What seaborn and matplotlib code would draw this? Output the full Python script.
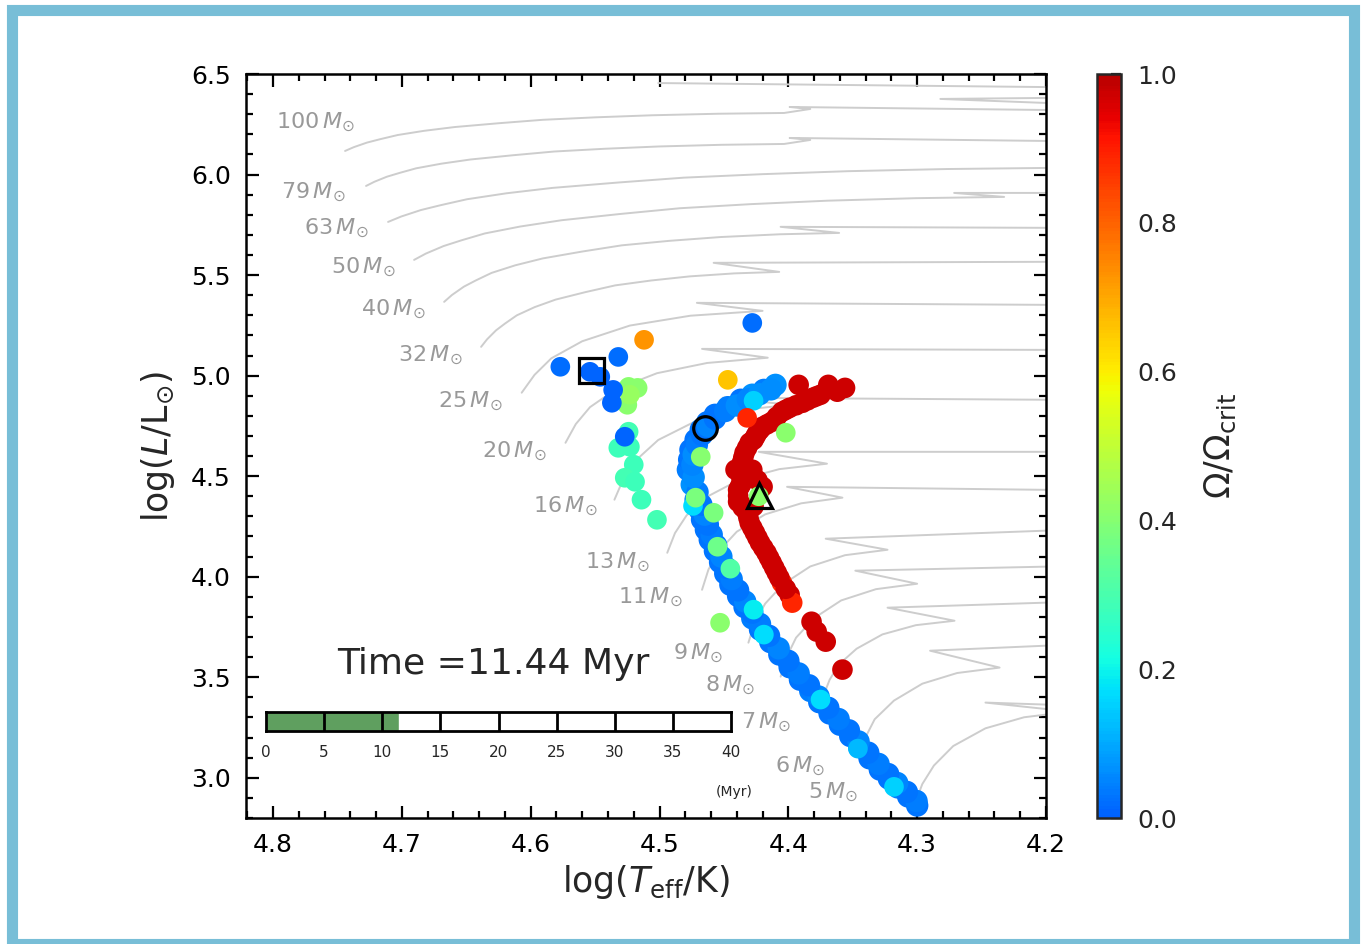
import numpy as np
import pandas as pd
import matplotlib
matplotlib.use("Agg")
import matplotlib.pyplot as plt
import seaborn as sns
from matplotlib.colors import ListedColormap, Normalize
from matplotlib.patches import Rectangle
from matplotlib.ticker import MultipleLocator
import matplotlib.cm as cm

# ---------------- data ----------------
# evolutionary tracks (logTeff, logL)
trk5_T = [4.302, 4.296, 4.287, 4.272, 4.247, 4.217, 4.181, 4.247, 4.200]
trk5_L = [2.867, 2.969, 3.061, 3.158, 3.246, 3.301, 3.329, 3.374, 3.364]
trk6_T = [4.346, 4.340, 4.333, 4.318, 4.296, 4.269, 4.236, 4.290, 4.200]
trk6_L = [3.105, 3.203, 3.291, 3.384, 3.468, 3.521, 3.548, 3.632, 3.657]
trk7_T = [4.373, 4.368, 4.361, 4.347, 4.327, 4.301, 4.271, 4.323, 4.200]
trk7_L = [3.404, 3.487, 3.562, 3.642, 3.713, 3.759, 3.781, 3.846, 3.871]
trk8_T = [4.406, 4.401, 4.394, 4.380, 4.359, 4.332, 4.300, 4.348, 4.200]
trk8_L = [3.503, 3.605, 3.697, 3.794, 3.882, 3.938, 3.965, 4.030, 4.050]
trk9_T = [4.431, 4.426, 4.418, 4.404, 4.383, 4.356, 4.323, 4.371, 4.200]
trk9_L = [3.672, 3.774, 3.866, 3.963, 4.051, 4.107, 4.134, 4.189, 4.229]
trk11_T = [4.467, 4.462, 4.454, 4.440, 4.418, 4.390, 4.358, 4.401, 4.200]
trk11_L = [3.935, 4.036, 4.127, 4.224, 4.310, 4.365, 4.393, 4.447, 4.432]
trk13_T = [4.494, 4.488, 4.479, 4.463, 4.438, 4.407, 4.370, 4.423, 4.200]
trk13_L = [4.119, 4.217, 4.305, 4.398, 4.482, 4.535, 4.562, 4.621, 4.621]
trk16_T = [4.535, 4.528, 4.518, 4.501, 4.473, 4.439, 4.399, 4.451, 4.200]
trk16_L = [4.383, 4.487, 4.581, 4.680, 4.770, 4.827, 4.855, 4.890, 4.880]
trk20_T = [4.573, 4.565, 4.554, 4.534, 4.502, 4.463, 4.416, 4.467, 4.200]
trk20_L = [4.666, 4.759, 4.843, 4.932, 5.012, 5.063, 5.089, 5.133, 5.128]
trk25_T = [4.607, 4.597, 4.584, 4.560, 4.523, 4.476, 4.420, 4.471, 4.200]
trk25_L = [4.915, 5.004, 5.086, 5.171, 5.249, 5.298, 5.322, 5.362, 5.352]
trk32_T = [4.6385, 4.6339, 4.6269, 4.6200, 4.6108, 4.5969, 4.5807, 4.5575, 4.5344,
           4.5066, 4.4766, 4.4418, 4.4071, 4.458, 4.200]
trk32_L = [5.1431, 5.1804, 5.2252, 5.2587, 5.2997, 5.3407, 5.3780, 5.4153, 5.4488,
           5.4730, 5.4935, 5.5085, 5.5159, 5.561, 5.566]
trk40_T = [4.6672, 4.6611, 4.6519, 4.6427, 4.6304, 4.6120, 4.5906, 4.5599, 4.5292,
           4.4924, 4.4526, 4.4066, 4.3606, 4.406, 4.200]
trk40_L = [5.3668, 5.4011, 5.4423, 5.4731, 5.5108, 5.5486, 5.5829, 5.6172, 5.6480,
           5.6703, 5.6892, 5.7029, 5.7097, 5.740, 5.735]
trk50_T = [4.6905, 4.6814, 4.6676, 4.6539, 4.6356, 4.6081, 4.5760, 4.5302, 4.4844,
           4.4294, 4.3699, 4.3012, 4.2325, 4.2713, 4.200]
trk50_L = [5.5756, 5.6069, 5.6444, 5.6726, 5.7071, 5.7415, 5.7728, 5.8041, 5.8323,
           5.8527, 5.8699, 5.8824, 5.8887, 5.9086, 5.9086]
trk63_T = [4.7107, 4.7005, 4.6852, 4.6699, 4.6495, 4.6189, 4.5832, 4.5322, 4.4812,
           4.4200, 4.3537, 4.2771, 4.2006]
trk63_L = [5.7644, 5.7913, 5.8235, 5.8476, 5.8771, 5.9067, 5.9335, 5.9603, 5.9845,
           6.0019, 6.0167, 6.0274, 6.0328]
trk79_T = [4.7278, 4.7213, 4.7116, 4.7018, 4.6889, 4.6694, 4.6467, 4.6142, 4.5818,
           4.5428, 4.5006, 4.4519, 4.4033, 4.383, 4.399, 4.200]
trk79_L = [5.9433, 5.9642, 5.9893, 6.0081, 6.0310, 6.0540, 6.0749, 6.0957, 6.1145,
           6.1281, 6.1396, 6.1479, 6.1521, 6.172, 6.182, 6.167]
trk100_T = [4.7441, 4.7373, 4.7271, 4.7168, 4.7032, 4.6828, 4.6589, 4.6248, 4.5907,
            4.5498, 4.5055, 4.4544, 4.4033, 4.383, 4.399, 4.200]
trk100_L = [6.1173, 6.1362, 6.1589, 6.1759, 6.1966, 6.2174, 6.2363, 6.2552, 6.2722,
            6.2845, 6.2948, 6.3024, 6.3062, 6.326, 6.336, 6.321]
trkA_T = [4.501, 4.200]
trkA_L = [6.455, 6.435]
trkB_T = [4.200, 4.282, 4.200]
trkB_L = [6.381, 6.376, 6.356]

# track labels
label_masses = [100, 79, 63, 50, 40, 32, 25, 20, 16, 13, 11, 9, 8, 7, 6, 5]
label_T = [4.767, 4.769, 4.751, 4.730, 4.707, 4.678, 4.647, 4.613, 4.573,
           4.533, 4.507, 4.470, 4.445, 4.417, 4.391, 4.365]
label_L = [6.257, 5.909, 5.730, 5.536, 5.327, 5.103, 4.870, 4.621, 4.348,
           4.070, 3.896, 3.617, 3.458, 3.274, 3.056, 2.926]

# slowly rotating sequence (blue band)
band_T = [4.300, 4.307, 4.315, 4.322, 4.329, 4.337, 4.345, 4.352, 4.360, 4.368,
          4.376, 4.383, 4.391, 4.399, 4.407, 4.414, 4.422, 4.428, 4.434, 4.439,
          4.445, 4.449, 4.453, 4.457, 4.461, 4.464, 4.467, 4.469, 4.472, 4.475,
          4.478, 4.477, 4.476, 4.472, 4.468, 4.463, 4.457, 4.447, 4.437, 4.428,
          4.419, 4.410]
band_L = [2.862, 2.907, 2.952, 2.996, 3.041, 3.097, 3.153, 3.208, 3.264, 3.320,
          3.376, 3.432, 3.488, 3.550, 3.613, 3.675, 3.737, 3.793, 3.849, 3.904,
          3.960, 4.016, 4.072, 4.128, 4.184, 4.234, 4.284, 4.333, 4.383, 4.458,
          4.532, 4.582, 4.631, 4.681, 4.731, 4.768, 4.805, 4.843, 4.880, 4.905,
          4.929, 4.954]
band_v = [0.03, 0.03, 0.04, 0.03, 0.03, 0.03, 0.04, 0.03, 0.03, 0.03,
          0.03, 0.04, 0.03, 0.03, 0.03, 0.03, 0.03, 0.04, 0.03, 0.03,
          0.03, 0.03, 0.03, 0.03, 0.03, 0.03, 0.03, 0.03, 0.04, 0.07,
          0.04, 0.03, 0.03, 0.03, 0.03, 0.03, 0.03, 0.04, 0.03, 0.07,
          0.04, 0.07]
band2_T = [4.3005, 4.308, 4.3155, 4.3225, 4.330, 4.338, 4.3455, 4.353, 4.361, 4.369,
           4.3765, 4.384, 4.392, 4.400, 4.4075, 4.415, 4.422, 4.428, 4.4335, 4.439,
           4.444, 4.448, 4.452, 4.456, 4.4595, 4.4625, 4.465, 4.4675, 4.4705, 4.4735,
           4.4745, 4.4735, 4.471, 4.467, 4.4625, 4.457, 4.449, 4.440, 4.4315, 4.4225,
           4.4135]
band2_L = [2.8845, 2.9295, 2.974, 3.0185, 3.069, 3.125, 3.1805, 3.236, 3.292, 3.348,
           3.404, 3.460, 3.519, 3.5815, 3.644, 3.706, 3.765, 3.821, 3.8765, 3.932,
           3.988, 4.044, 4.100, 4.156, 4.209, 4.259, 4.3085, 4.358, 4.4205, 4.495,
           4.557, 4.6065, 4.656, 4.706, 4.7495, 4.7865, 4.824, 4.8515, 4.8825, 4.907,
           4.9315]
band2_v = [0.04, 0.03, 0.05, 0.03, 0.04, 0.03, 0.05, 0.03, 0.04, 0.03,
           0.05, 0.03, 0.04, 0.03, 0.05, 0.03, 0.04, 0.03, 0.05, 0.03,
           0.04, 0.03, 0.05, 0.03, 0.04, 0.03, 0.05, 0.03, 0.04, 0.06,
           0.05, 0.06, 0.04, 0.03, 0.05, 0.03, 0.04, 0.06, 0.05, 0.07,
           0.06]

# moderately rotating stars on the band edge
cyan_T = [4.427, 4.474, 4.427, 4.419, 4.375, 4.346, 4.318]
cyan_L = [4.875, 4.352, 3.836, 3.712, 3.389, 3.145, 2.955]
cyan_v = [0.15, 0.17, 0.19, 0.17, 0.17, 0.12, 0.15]

# fast rotating sequence (red)
red_T = [4.392, 4.369, 4.362, 4.356, 4.375, 4.381, 4.389, 4.399, 4.405, 4.413,
         4.420, 4.424, 4.427, 4.430, 4.434, 4.436, 4.437, 4.441, 4.436, 4.439,
         4.439, 4.420, 4.432, 4.430, 4.426, 4.422, 4.417, 4.413, 4.409, 4.405,
         4.399, 4.397, 4.382, 4.378, 4.371, 4.358]
red_L = [4.954, 4.954, 4.920, 4.939, 4.905, 4.890, 4.865, 4.840, 4.820, 4.770,
         4.746, 4.716, 4.681, 4.666, 4.616, 4.567, 4.517, 4.532, 4.467, 4.432,
         4.373, 4.447, 4.318, 4.268, 4.219, 4.169, 4.119, 4.070, 4.020, 3.970,
         3.910, 3.871, 3.776, 3.727, 3.677, 3.538]
red_v = [0.97] * 29 + [0.89, 0.97, 0.89, 0.97, 0.97, 0.97, 0.97]
red2_T = [4.378, 4.385, 4.394, 4.402, 4.409, 4.4165, 4.422, 4.4255, 4.432, 4.435,
          4.4365, 4.4365, 4.4375, 4.439, 4.4355, 4.431, 4.428, 4.424, 4.4195, 4.415,
          4.411, 4.407, 4.402, 4.424, 4.427, 4.428]
red2_L = [4.8975, 4.8775, 4.8525, 4.830, 4.795, 4.758, 4.731, 4.6985, 4.641, 4.5915,
          4.542, 4.492, 4.4495, 4.4025, 4.3455, 4.293, 4.2435, 4.194, 4.144, 4.0945,
          4.045, 3.995, 3.940, 4.480, 4.350, 4.532]
red2_v = [0.97] * 26

# other stars
other_T = [4.524, 4.532, 4.523, 4.520, 4.527, 4.519, 4.514, 4.502,
           4.524, 4.517, 4.525, 4.523,
           4.468, 4.472, 4.458, 4.455, 4.453, 4.402, 4.445, 4.423,
           4.536, 4.537, 4.527, 4.546, 4.554, 4.577, 4.532, 4.428,
           4.512, 4.447, 4.432]
other_L = [4.721, 4.641, 4.646, 4.557, 4.492, 4.472, 4.383, 4.283,
           4.944, 4.939, 4.855, 4.905,
           4.596, 4.393, 4.318, 4.149, 3.771, 4.716, 4.040, 4.400,
           4.929, 4.865, 4.696, 4.994, 5.019, 5.044, 5.093, 5.262,
           5.178, 4.979, 4.790]
other_v = [0.29, 0.28, 0.28, 0.28, 0.29, 0.28, 0.28, 0.29,
           0.41, 0.41, 0.41, 0.43,
           0.40, 0.38, 0.38, 0.36, 0.41, 0.41, 0.31, 0.41,
           0.01, 0.01, 0.01, 0.01, 0.01, 0.02, 0.02, 0.02,
           0.73, 0.66, 0.89]

# highlighted stars
square_T, square_L = [4.553], [5.029]
circle_T, circle_L = [4.465], [4.741]
triangle_T, triangle_L = [4.423], [4.408]

# time bar
current_time = 11.44
max_time = 40
time_ticks = [0, 5, 10, 15, 20, 25, 30, 35, 40]
cbar_ticks = [0.0, 0.2, 0.4, 0.6, 0.8, 1.0]

# ---------------- style ----------------
sns.set_style("white")
plt.rcParams['font.family'] = ['DejaVu Sans']
plt.rcParams['mathtext.fontset'] = 'dejavusans'

W, H = 1361, 944
fig = plt.figure(figsize=(W / 100, H / 100), dpi=100)
fig.patch.set_facecolor('white')

# outer light-blue frame
fig.patches.append(Rectangle((11.5 / W, 0.5 / H), (1353.5 - 11.5) / W, (934.5 - 0.5) / H,
                             transform=fig.transFigure, fill=False,
                             edgecolor='#78bed7', linewidth=8.0, zorder=0))

ax = fig.add_axes([246 / W, (H - 818) / H, 800 / W, 744 / H])

jet = plt.get_cmap('jet')
cmap = ListedColormap(jet(np.linspace(0.22, 0.95, 256)))
norm = Normalize(0, 1)

track_list = [(trk5_T, trk5_L), (trk6_T, trk6_L), (trk7_T, trk7_L), (trk8_T, trk8_L),
              (trk9_T, trk9_L), (trk11_T, trk11_L), (trk13_T, trk13_L),
              (trk16_T, trk16_L), (trk20_T, trk20_L), (trk25_T, trk25_L),
              (trk32_T, trk32_L), (trk40_T, trk40_L), (trk50_T, trk50_L),
              (trk63_T, trk63_L), (trk79_T, trk79_L), (trk100_T, trk100_L),
              (trkA_T, trkA_L), (trkB_T, trkB_L)]
for tT, tL in track_list:
    ax.plot(tT, tL, color='#cdcdcd', lw=1.4, zorder=1, solid_joinstyle='round')

for m, tx, ty in zip(label_masses, label_T, label_L):
    ax.text(tx, ty, f"{m}" + r"$\,M_{\odot}$", color='#999999', fontsize=16,
            ha='center', va='center', zorder=2)

def dots(T, L, v, z, s=200):
    df = pd.DataFrame({'T': T, 'L': L, 'v': v})
    sns.scatterplot(data=df, x='T', y='L', hue='v', palette=cmap, hue_norm=norm,
                    s=s, linewidth=0, legend=False, ax=ax, zorder=z)

dots(band_T, band_L, band_v, 3, s=260)
dots(band2_T, band2_L, band2_v, 3, s=260)
dots(cyan_T, cyan_L, cyan_v, 4)
dots(red_T, red_L, red_v, 5, s=220)
dots(red2_T, red2_L, red2_v, 5, s=220)
dots(other_T, other_L, other_v, 6)

ax.plot(square_T, square_L, marker='s', ms=18, mfc='none', mec='black', mew=2.3,
        ls='none', zorder=8)
ax.plot(circle_T, circle_L, marker='o', ms=17, mfc='none', mec='black', mew=2.3,
        ls='none', zorder=8)
ax.plot(triangle_T, triangle_L, marker='^', ms=18, mfc='none', mec='black', mew=2.3,
        ls='none', zorder=8)

ax.set_xlim(4.821, 4.2)
ax.set_ylim(2.8, 6.5)
ax.xaxis.set_major_locator(MultipleLocator(0.1))
ax.xaxis.set_minor_locator(MultipleLocator(0.02))
ax.yaxis.set_major_locator(MultipleLocator(0.5))
ax.yaxis.set_minor_locator(MultipleLocator(0.1))
ax.tick_params(which='both', direction='in', top=True, right=True, bottom=True,
               left=True, width=1.6, labelsize=18, pad=11, colors='black')
ax.tick_params(which='major', length=9)
ax.tick_params(which='minor', length=5)
for sp in ax.spines.values():
    sp.set_linewidth(1.8)
    sp.set_color('black')
ax.set_xlabel(r"log($T_{\rm eff}$/K)", fontsize=25, labelpad=4)
ax.set_ylabel(r"log($L$/L$_{\odot}$)", fontsize=25, labelpad=10)

ax.text(0.309, 0.207, "Time =11.44 Myr", transform=ax.transAxes, fontsize=26,
        ha='center', va='center', zorder=9)

# time progress bar
axb = fig.add_axes([266 / W, (H - 731) / H, 465 / W, 19 / H])
axb.barh([0], [current_time], height=1.0, left=0, color='#5f9f5f', zorder=1)
axb.vlines(time_ticks[1:-1], -0.5, 0.5, colors='black', lw=2, zorder=2)
axb.set_xlim(time_ticks[0], time_ticks[-1])
axb.set_ylim(-0.5, 0.5)
axb.set_xticks(time_ticks)
axb.set_yticks([])
axb.tick_params(axis='x', length=0, pad=10, labelsize=11, bottom=True)
for sp in axb.spines.values():
    sp.set_linewidth(2)
    sp.set_color('black')
fig.text(734 / W, (H - 792) / H, "(Myr)", fontsize=10, ha='center', va='center')

# colorbar
cax = fig.add_axes([1097 / W, (H - 818) / H, 24 / W, 744 / H])
sm = cm.ScalarMappable(norm=norm, cmap=cmap)
cb = fig.colorbar(sm, cax=cax, ticks=cbar_ticks)
cb.ax.tick_params(direction='in', length=7, width=1.6, labelsize=18, pad=12,
                  right=True)
cb.outline.set_linewidth(1.8)
cb.set_label(r"$\Omega/\Omega_{\rm crit}$", fontsize=25, labelpad=18)

fig.savefig("out.png", dpi=100, facecolor='white')
